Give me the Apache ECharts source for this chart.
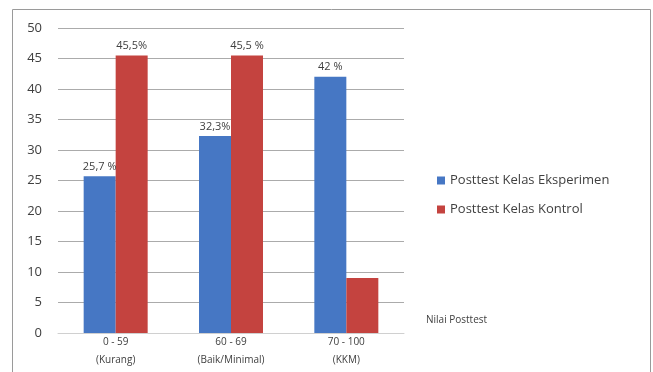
<!DOCTYPE html>
<html>
<head>
<meta charset="utf-8">
<script src="https://cdn.jsdelivr.net/npm/echarts@6/dist/echarts.min.js"></script>
<style>
  html, body { margin: 0; padding: 0; background: #fff; }
  #chart { width: 653px; height: 372px; }
</style>
</head>
<body>
<div id="chart"></div>
<script>
  const categories = ['0 - 59\n(Kurang)', '60 - 69\n(Baik/Minimal)', '70 - 100\n(KKM)']
  const seriesNames = ['Posttest Kelas Eksperimen', 'Posttest Kelas Kontrol']
  const eksperimen = [25.7, 32.3, 42]
  const kontrol = [45.5, 45.5, 9]
  const eksperimenLabels = ['25,7 %', '32,3%', '42 %']
  const kontrolLabels = ['45,5%', '45,5 %', '']
  const yTicks = { min: 0, max: 50, interval: 5 }
  const xAxisName = 'Nilai Posttest'

  const textColor = '#404040'
  const font = 'Open Sans, sans-serif'

  const chart = echarts.init(document.getElementById('chart'))

  function labelFrom(list) {
    return {
      show: true,
      position: 'top',
      distance: 4,
      color: textColor,
      fontFamily: font,
      fontSize: 11,
      formatter: (p) => list[p.dataIndex],
    }
  }

  chart.setOption({
    animation: false,
    graphic: [
      {
        type: 'rect',
        shape: { x: 12.5, y: 9.5, width: 638, height: 370 },
        style: { fill: 'none', stroke: '#9a9a9a', lineWidth: 1 },
        silent: true,
      },
      {
        // axis title sits right of the plot, a bit above the baseline
        type: 'text',
        left: 426,
        top: 315,
        style: { text: xAxisName, fill: textColor, font: '10px Open Sans, sans-serif' },
        silent: true,
      },
    ],
    grid: { left: 58, right: 249, top: 28, bottom: 39 },
    legend: {
      orient: 'vertical',
      left: 432,
      top: 169,
      itemWidth: 8,
      itemHeight: 8,
      itemGap: 16,
      icon: 'rect',
      textStyle: { color: textColor, fontFamily: font, fontSize: 13 },
      data: seriesNames,
    },
    xAxis: {
      type: 'category',
      data: categories,
      axisLine: { show: true, lineStyle: { color: '#d0d0d0' } },
      axisTick: { show: false },
      axisLabel: {
        color: textColor,
        fontFamily: font,
        fontSize: 10,
        lineHeight: 18,
        margin: 0,
      },
    },
    yAxis: {
      type: 'value',
      min: yTicks.min,
      max: yTicks.max,
      interval: yTicks.interval,
      axisLine: { show: false },
      axisTick: { show: false },
      axisLabel: { color: textColor, fontFamily: font, fontSize: 13, margin: 16 },
      splitLine: { lineStyle: { color: '#ababab', width: 1 } },
    },
    series: [
      {
        name: seriesNames[0],
        type: 'bar',
        data: eksperimen,
        barWidth: 32,
        barGap: '0%',
        itemStyle: { color: '#4677c4' },
        label: labelFrom(eksperimenLabels),
      },
      {
        name: seriesNames[1],
        type: 'bar',
        data: kontrol,
        barWidth: 32,
        itemStyle: { color: '#c4433f' },
        label: labelFrom(kontrolLabels),
      },
    ],
  })
</script>
</body>
</html>
